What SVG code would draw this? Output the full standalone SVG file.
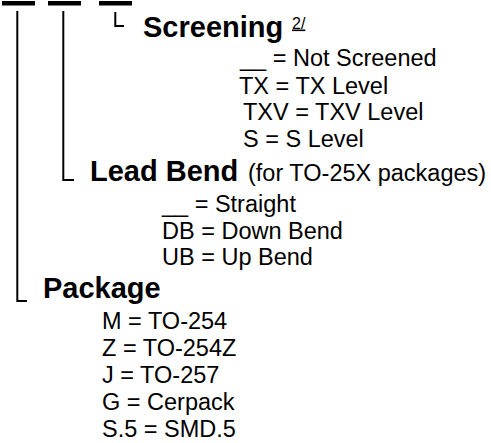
<svg xmlns="http://www.w3.org/2000/svg" width="491" height="443" viewBox="0 0 491 443">
<style>
  text { font-family: "Liberation Sans", Arial, sans-serif; fill: #000; }
  .h { font-size: 29px; font-weight: bold; }
  .t { font-size: 23.5px; }
  .sup { font-size: 16px; text-decoration: underline; }
  .bar { fill: #000; }
  .ln { fill: none; stroke: #000; stroke-width: 2; }
</style>
<rect width="491" height="443" fill="#fff"/>
<g id="slots">
  <rect class="bar" x="2" y="1" width="33" height="4.5"/>
  <rect class="bar" x="48" y="1" width="33" height="4.5"/>
  <rect class="bar" x="99" y="1" width="33" height="4.5"/>
</g>
<g id="connectors">
  <polyline class="ln" points="17.3,11 17.3,301 27,301"/>
  <polyline class="ln" points="63.3,11 63.3,180 74,180"/>
  <polyline class="ln" points="115.3,12 115.3,26 124,26"/>
</g>
<g id="screening">
  <text class="h" x="143" y="36.5">Screening</text>
  <text class="sup" x="292" y="28.5">2/</text>
  <text class="t" x="240" y="66">__ = Not Screened</text>
  <text class="t" x="239" y="93.5">TX = TX Level</text>
  <text class="t" x="243" y="120">TXV = TXV Level</text>
  <text class="t" x="243" y="147">S = S Level</text>
</g>
<g id="lead-bend">
  <text class="h" x="90" y="181">Lead Bend</text>
  <text class="t" x="248" y="181">(for TO-25X packages)</text>
  <text class="t" x="162" y="212">__ = Straight</text>
  <text class="t" x="162" y="238.5">DB = Down Bend</text>
  <text class="t" x="162" y="265">UB = Up Bend</text>
</g>
<g id="package">
  <text class="h" x="43" y="297.5">Package</text>
  <text class="t" x="102" y="328.5">M = TO-254</text>
  <text class="t" x="102" y="355.5">Z = TO-254Z</text>
  <text class="t" x="102" y="382.5">J = TO-257</text>
  <text class="t" x="102" y="409.5">G = Cerpack</text>
  <text class="t" x="102" y="436.5">S.5 = SMD.5</text>
</g>
</svg>
